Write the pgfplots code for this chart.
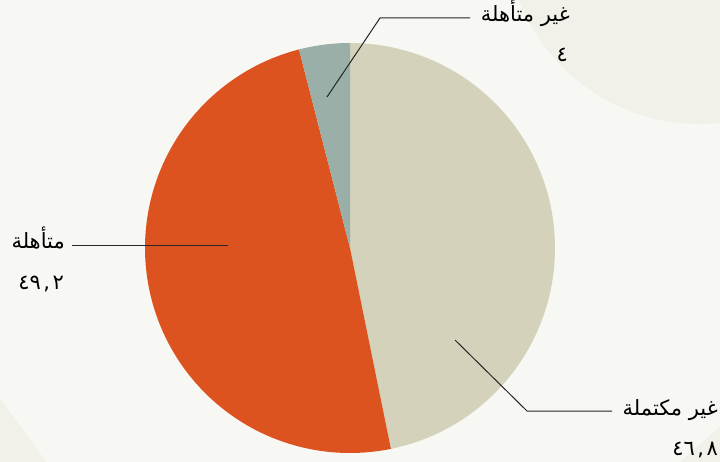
\documentclass[border=0pt]{standalone}
\usepackage{pgfplots}
\pgfplotsset{compat=1.18}
\usepackage{pgfplotstable}
\usepackage{fontspec}
\TeXXeTstate=1
\newfontfamily\arabicfont[Script=Arabic]{DejaVu Sans}
\newcommand{\lbl}{\arabicfont\fontsize{21}{24}\selectfont}
\newcommand{\cm}{\hspace{2.5pt},\hspace{2.5pt}}
\definecolor{bgcol}{HTML}{F7F7F3}
\definecolor{decocol}{HTML}{F1F0E9}
\definecolor{sbeige}{HTML}{D4D2BB}
\definecolor{sorange}{HTML}{DD531F}
\definecolor{sgrey}{HTML}{9AAFA7}
\pgfplotstableread{
value
46.8
49.2
4
}\piedata
\begin{document}%
\begin{tikzpicture}
\pgfplotstablegetelem{0}{value}\of\piedata \let\va\pgfplotsretval
\pgfplotstablegetelem{1}{value}\of\piedata \let\vb\pgfplotsretval
\pgfplotstablegetelem{2}{value}\of\piedata \let\vc\pgfplotsretval
\pgfmathsetmacro\aA{90}
\pgfmathsetmacro\aB{90-3.6*\va}
\pgfmathsetmacro\aC{\aB-3.6*\vb}
\pgfmathsetmacro\aD{\aC-3.6*\vc}
\begin{axis}[
  width=720pt, height=462pt, scale only axis,
  xmin=0, xmax=720, ymin=0, ymax=462, y dir=reverse,
  hide axis, clip=false,
]
\coordinate (bl) at (axis cs:0,462);
\coordinate (tr) at (axis cs:720,0);
\fill[bgcol] (axis cs:0,0) rectangle (axis cs:720,462);
\begin{scope}
\clip (axis cs:0,0) rectangle (axis cs:720,462);
\fill[decocol] (axis cs:700,-70) circle[radius=194pt];
\fill[decocol] (axis cs:0,398) -- (axis cs:46,462) -- (axis cs:0,462) -- cycle;
\fill[decocol] (axis cs:680,462) -- (axis cs:720,427) -- (axis cs:720,462) -- cycle;
\end{scope}
% pie sectors
\addplot[fill=sbeige, draw=none, domain=\aB:\aA, samples=150, variable=\t]
  ({350+205*cos(\t)},{248-205*sin(\t)}) -- (axis cs:350,248) -- cycle;
\addplot[fill=sorange, draw=none, domain=\aC:\aB, samples=150, variable=\t]
  ({350+205*cos(\t)},{248-205*sin(\t)}) -- (axis cs:350,248) -- cycle;
\addplot[fill=sgrey, draw=none, domain=\aD:\aC, samples=40, variable=\t]
  ({350+205*cos(\t)},{248-205*sin(\t)}) -- (axis cs:350,248) -- cycle;
% leader lines
\draw[line width=1pt, black!85] (axis cs:327,97) -- (axis cs:380,18) -- (axis cs:470,18);
\draw[line width=1pt, black!85] (axis cs:228,245.5) -- (axis cs:72,245.5);
\draw[line width=1pt, black!85] (axis cs:455,340) -- (axis cs:527,411) -- (axis cs:612,411);
% labels
\node[anchor=base east, inner sep=0pt] at (axis cs:570,22) {\lbl\beginR غير متأهلة\endR};
\node[anchor=base east, inner sep=0pt] at (axis cs:568,62) {\lbl ٤};
\node[anchor=base east, inner sep=0pt] at (axis cs:65,249) {\lbl\beginR متأهلة\endR};
\node[anchor=base east, inner sep=0pt] at (axis cs:64,290) {\lbl ٤٩\cm٢};
\node[anchor=base east, inner sep=0pt] at (axis cs:718,415) {\lbl\beginR غير مكتملة\endR};
\node[anchor=base east, inner sep=0pt] at (axis cs:718,455) {\lbl ٤٦\cm٨};
\end{axis}
\pgfresetboundingbox
\path (bl) rectangle (tr);
\end{tikzpicture}%
\end{document}
